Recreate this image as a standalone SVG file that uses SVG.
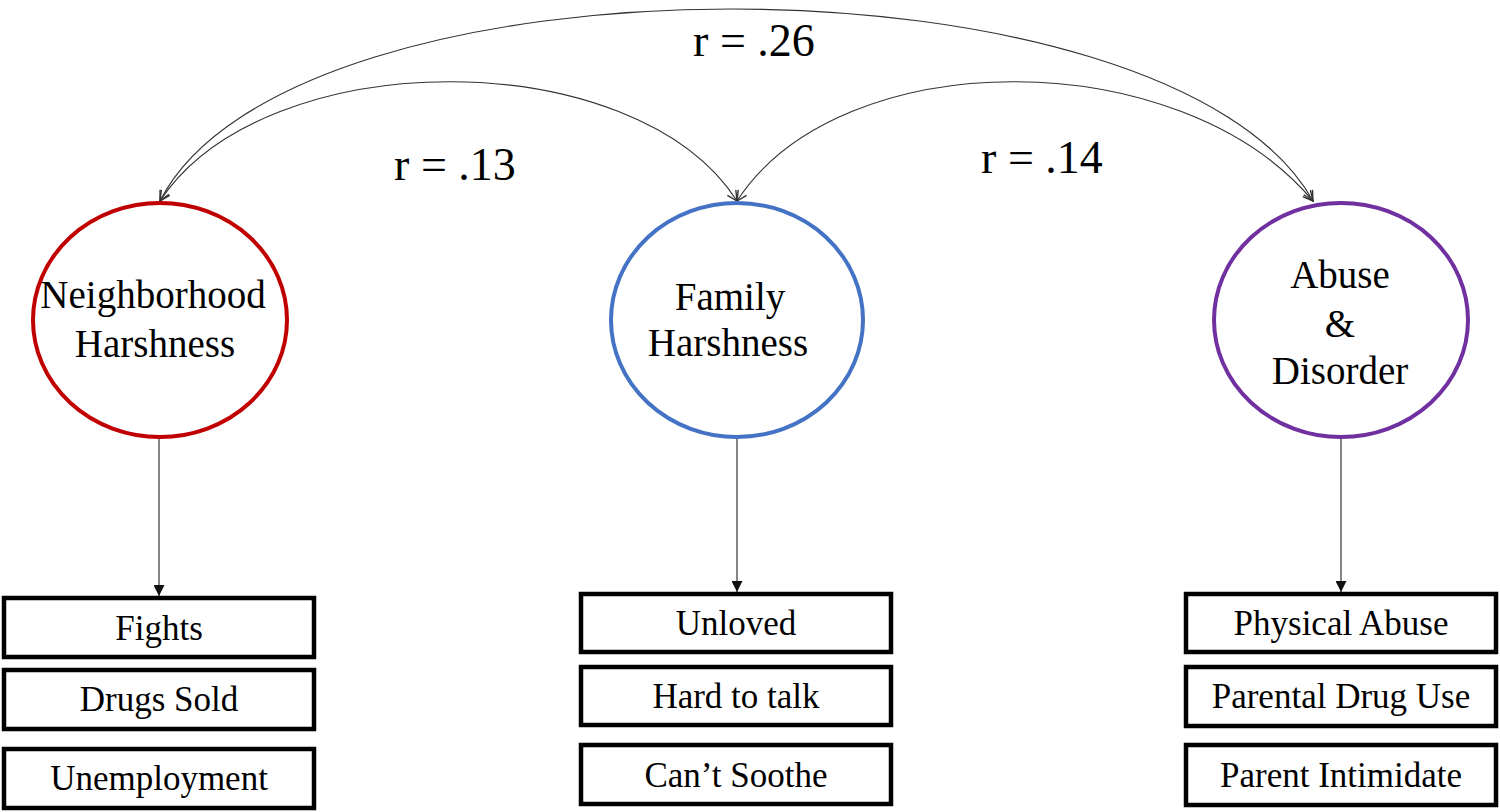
<svg xmlns="http://www.w3.org/2000/svg" width="1500" height="812" viewBox="0 0 1500 812">
<style>
  text { font-family: "Liberation Serif", "Times New Roman", serif; fill: #000; text-anchor: middle; }
  .lat { fill: #fff; stroke-width: 4; }
  .box { fill: #fff; stroke: #000; stroke-width: 4.5; }
  .lbl { font-size: 39px; }
  .ind { font-size: 35px; }
  .r { font-size: 46px; }
  .cov { fill: none; stroke: #333; stroke-width: 1.2; marker-start: url(#open); marker-end: url(#open); }
  .load { fill: none; stroke: #444; stroke-width: 1.3; marker-end: url(#solid); }
</style>
<defs>
  <marker id="open" viewBox="0 0 12 12" refX="11" refY="6" markerWidth="12" markerHeight="12" markerUnits="userSpaceOnUse" orient="auto-start-reverse">
    <path d="M1,1 L11,6 L1,11" fill="none" stroke="#333" stroke-width="1.4"/>
  </marker>
  <marker id="solid" viewBox="0 0 10 10" refX="10" refY="5" markerWidth="11" markerHeight="11" markerUnits="userSpaceOnUse" orient="auto">
    <path d="M0,0 L10,5 L0,10 Z" fill="#111"/>
  </marker>
</defs>
<rect width="1500" height="812" fill="#fff"/>

<g id="connectors">
  <path class="cov" d="M160,201 C290,-55 1170,-55 1313,201"/>
  <path class="cov" d="M737,201 C840,42 1180,42 1313,201"/>
  <path class="cov" d="M160,201 C265,42 635,42 737,201"/>
  <line class="load" x1="159" y1="438" x2="159" y2="596"/>
  <line class="load" x1="737" y1="438" x2="737" y2="592"/>
  <line class="load" x1="1341" y1="437" x2="1341" y2="592"/>
  <text class="r" x="754" y="56">r = .26</text>
  <text class="r" x="455" y="180">r = .13</text>
  <text class="r" x="1042" y="173">r = .14</text>
</g>

<g id="neighborhood">
  <ellipse class="lat" stroke="#C00000" cx="160" cy="320" rx="127" ry="117"/>
  <text class="lbl" x="153" y="308">Neighborhood</text>
  <text class="lbl" x="155" y="357">Harshness</text>
</g>
<g id="family">
  <ellipse class="lat" stroke="#4472C4" cx="737" cy="320" rx="126" ry="117"/>
  <text class="lbl" x="730" y="310">Family</text>
  <text class="lbl" x="728" y="356">Harshness</text>
</g>
<g id="abuse">
  <ellipse class="lat" stroke="#7030A0" cx="1341" cy="320" rx="127" ry="117"/>
  <text class="lbl" x="1340" y="288">Abuse</text>
  <text class="lbl" x="1340" y="337">&amp;</text>
  <text class="lbl" x="1340" y="384">Disorder</text>
</g>

<g id="n-fights"><rect class="box" x="4" y="598" width="310" height="59"/><text class="ind" x="159" y="640">Fights</text></g>
<g id="n-drugs"><rect class="box" x="4" y="670" width="310" height="59"/><text class="ind" x="159" y="711">Drugs Sold</text></g>
<g id="n-unemp"><rect class="box" x="4" y="749" width="310" height="59"/><text class="ind" x="159" y="790">Unemployment</text></g>

<g id="f-unloved"><rect class="box" x="581" y="594" width="310" height="58"/><text class="ind" x="736" y="635">Unloved</text></g>
<g id="f-hard"><rect class="box" x="581" y="667" width="310" height="58"/><text class="ind" x="736" y="708">Hard to talk</text></g>
<g id="f-soothe"><rect class="box" x="581" y="745" width="310" height="59"/><text class="ind" x="736" y="787">Can’t Soothe</text></g>

<g id="a-physical"><rect class="box" x="1186" y="594" width="310" height="58"/><text class="ind" x="1341" y="635">Physical Abuse</text></g>
<g id="a-drug"><rect class="box" x="1186" y="667" width="310" height="59"/><text class="ind" x="1341" y="708">Parental Drug Use</text></g>
<g id="a-intim"><rect class="box" x="1186" y="745" width="310" height="60"/><text class="ind" x="1341" y="787">Parent Intimidate</text></g>
</svg>
